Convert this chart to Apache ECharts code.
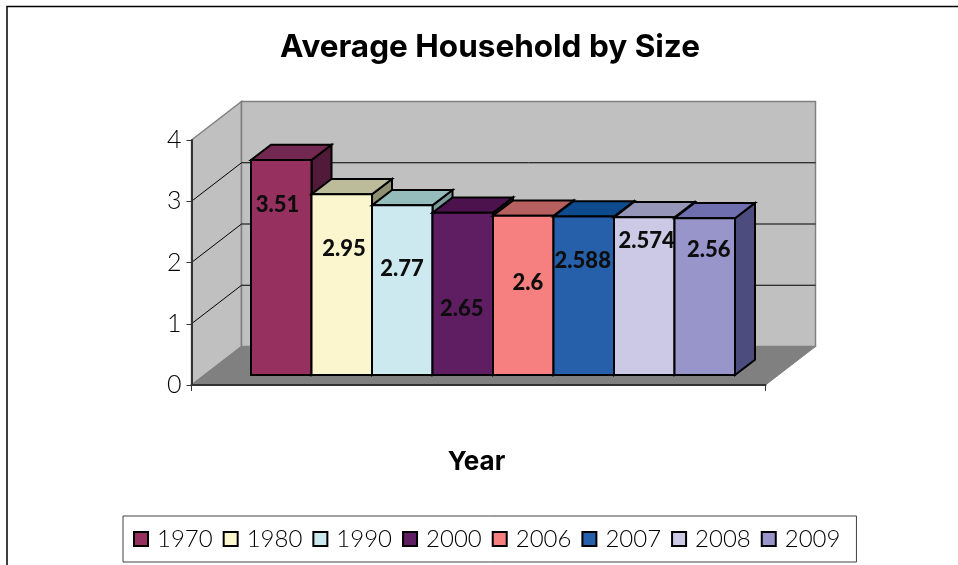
<!DOCTYPE html>
<html>
<head>
<meta charset="utf-8">
<style>
html, body { margin: 0; padding: 0; background: #fff; }
#chart { width: 958px; height: 565px; }
</style>
<script src="https://cdn.jsdelivr.net/npm/echarts@6/dist/echarts.min.js"></script>
</head>
<body>
<div id="chart"></div>
<script>
var categories = [''];
var years = ['1970', '1980', '1990', '2000', '2006', '2007', '2008', '2009'];
var sizes = [3.51, 2.95, 2.77, 2.65, 2.6, 2.588, 2.574, 2.56];
var yTicks = [0, 1, 2, 3, 4];
var barColors = ['#95305f', '#fbf6ce', '#cde9f0', '#5f1d62', '#f67f7f', '#2660aa', '#ccc9e6', '#9895cb'];
var topColors = ['#722850', '#bcbb9a', '#95bcbb', '#4c124e', '#b86060', '#0e4b8e', '#9696b8', '#6f6fb0'];
var sideColors = ['#501a38', '#8f8f72', '#7b9c9c', '#3f0f42', '#7b3f3f', '#133056', '#666480', '#4c4c7f'];
// the data labels were dragged by hand in the original, px from the middle of the front face
var labelNudgeX = [-3.7, 2.3, -0.3, -1, 4.7, -1, 2.3, 4];
var labelNudgeY = [-62.5, -35.7, -21, 15, -12.4, -34.7, -55, -46.3];

var FONT = 'Lato, "Open Sans", sans-serif';
var HEAD_FONT = 'Inter, Lato, sans-serif';
var WALL_DX = 50, WALL_DY = -38.5;   // depth of the floor
var BAR_DX = 20, BAR_DY = -15.3;     // depth of a bar
var BAR_OFF_X = 14.5, BAR_OFF_Y = -10; // bar front relative to the axis plane
var BAR_W = 60.5;

function poly(points, fill, stroke, lineWidth) {
    return {
        type: 'polygon',
        shape: { points: points },
        style: { fill: fill, stroke: stroke, lineWidth: lineWidth }
    };
}

function renderWalls(params, api) {
    var plot = params.coordSys;
    var left = plot.x, right = plot.x + plot.width;
    var y0 = api.coord([0, 0])[1];
    var yTop = api.coord([0, yTicks[yTicks.length - 1]])[1];
    var children = [
        poly([[left, y0], [left, yTop], [left + WALL_DX, yTop + WALL_DY], [left + WALL_DX, y0 + WALL_DY]], '#c0c0c0', '#808080', 1.5),
        poly([[left + WALL_DX, y0 + WALL_DY], [left + WALL_DX, yTop + WALL_DY], [right + WALL_DX, yTop + WALL_DY], [right + WALL_DX, y0 + WALL_DY]], '#c0c0c0', '#808080', 1.5),
        poly([[left, y0], [left + WALL_DX, y0 + WALL_DY], [right + WALL_DX, y0 + WALL_DY], [right, y0]], '#808080', '#808080', 1)
    ];
    yTicks.slice(1, -1).forEach(function (t) {
        var y = api.coord([0, t])[1];
        children.push({
            type: 'polyline',
            shape: { points: [[left, y], [left + WALL_DX, y + WALL_DY], [right + WALL_DX, y + WALL_DY]] },
            style: { fill: 'none', stroke: '#000', lineWidth: 1 }
        });
    });
    return { type: 'group', children: children };
}

function renderBar(params, api) {
    var i = params.seriesIndex - 1;
    var top = api.coord([api.value(0), api.value(1)]);
    var base = api.coord([api.value(0), 0]);
    var x1 = base[0] + BAR_OFF_X + (i - years.length / 2) * BAR_W;
    var x2 = x1 + BAR_W;
    var yt = top[1] + BAR_OFF_Y, yb = base[1] + BAR_OFF_Y;
    return {
        type: 'group',
        children: [
            poly([[x2, yt], [x2 + BAR_DX, yt + BAR_DY], [x2 + BAR_DX, yb + BAR_DY], [x2, yb]], sideColors[i], '#000', 2),
            poly([[x1, yt], [x1 + BAR_DX, yt + BAR_DY], [x2 + BAR_DX, yt + BAR_DY], [x2, yt]], topColors[i], '#000', 2),
            poly([[x1, yt], [x2, yt], [x2, yb], [x1, yb]], barColors[i], '#000', 2),
            {
                type: 'text',
                z2: 10,
                style: {
                    text: String(sizes[i]),
                    x: (x1 + x2) / 2 + labelNudgeX[i],
                    y: (yt + yb) / 2 + labelNudgeY[i],
                    align: 'center',
                    verticalAlign: 'middle',
                    fontFamily: FONT,
                    fontWeight: 900,
                    fontSize: 22,
                    fill: '#0d0d0d'
                }
            }
        ]
    };
}

var series = [{
    name: 'walls',
    type: 'custom',
    silent: true,
    z: -1,
    renderItem: renderWalls,
    data: [[0, 0]]
}];
years.forEach(function (year, i) {
    series.push({
        name: year,
        type: 'custom',
        renderItem: renderBar,
        encode: { x: 0, y: 1 },
        itemStyle: { color: barColors[i], borderColor: '#000', borderWidth: 2 },
        data: [[0, sizes[i]]]
    });
});

var chart = echarts.init(document.getElementById('chart'));
chart.setOption({
    animation: false,
    backgroundColor: '#fff',
    title: {
        text: 'Average Household by Size',
        left: 485,
        top: 27,
        textAlign: 'center',
        textStyle: { fontFamily: HEAD_FONT, fontWeight: 'bold', fontSize: 31.5, color: '#000' }
    },
    grid: { left: 191.5, top: 140, width: 574, height: 245 },
    xAxis: {
        type: 'category',
        data: categories,
        name: 'Year',
        nameLocation: 'middle',
        nameGap: 64,
        nameTextStyle: { fontFamily: HEAD_FONT, fontWeight: 'bold', fontSize: 26, color: '#000', padding: [0, 4, 0, 0] },
        axisLine: { show: true, lineStyle: { color: '#333', width: 2 } },
        axisTick: { show: true, length: 6, lineStyle: { color: '#333', width: 1 } },
        axisLabel: { show: false }
    },
    yAxis: {
        type: 'value',
        min: 0,
        max: 4,
        interval: 1,
        axisLine: { show: true, lineStyle: { color: '#333', width: 2 } },
        axisTick: { show: true, length: 5, lineStyle: { color: '#333', width: 1 } },
        axisLabel: { margin: 10, fontFamily: FONT, fontWeight: 300, fontSize: 25, color: '#000' },
        splitLine: { show: false }
    },
    legend: {
        data: years,
        left: 123,
        top: 516,
        orient: 'horizontal',
        icon: 'rect',
        itemWidth: 14,
        itemHeight: 14,
        itemGap: 10,
        padding: [11, 16, 11, 10],
        borderColor: '#404040',
        borderWidth: 1,
        backgroundColor: '#fff',
        itemStyle: { borderColor: '#000', borderWidth: 2 },
        textStyle: { fontFamily: FONT, fontWeight: 300, fontSize: 24, color: '#000', padding: [0, 0, 0, 4] }
    },
    graphic: [{
        type: 'polyline',
        silent: true,
        shape: { points: [[7, 565], [7, 6.5], [958, 6.5]] },
        style: { fill: 'none', stroke: '#000', lineWidth: 1.5 }
    }],
    series: series
});
</script>
</body>
</html>
